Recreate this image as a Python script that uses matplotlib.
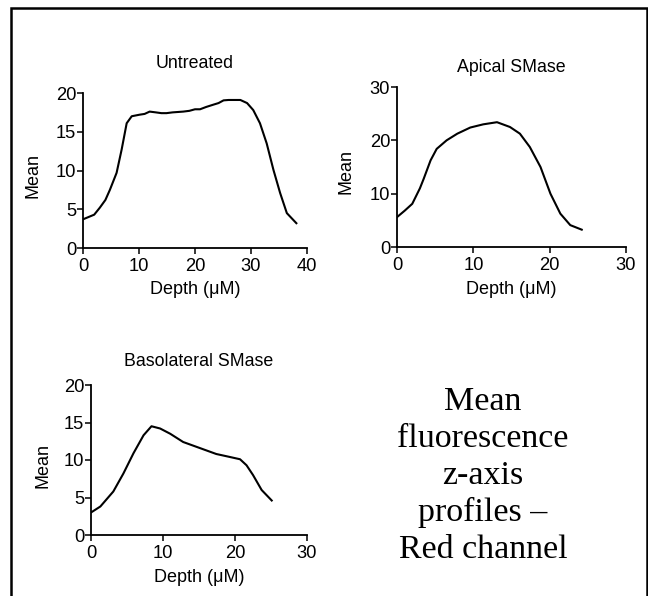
import matplotlib.pyplot as plt
from matplotlib.patches import Rectangle

# Untreated profile
untreated_depth = [0, 1, 2, 3, 4, 4.8, 6, 6.9, 7.8, 8.7, 10.1, 11.0, 11.9, 13.0, 14.0, 14.9, 16.0,
                   17.9, 19.0, 20.0, 20.9, 22.0, 23.3, 24.2, 25.1, 26.0, 27.0, 28.1, 29.3, 30.4,
                   31.6, 32.8, 34.0, 35.2, 36.4, 38.1]
untreated_mean = [3.7, 4.0, 4.3, 5.2, 6.2, 7.5, 9.7, 12.7, 16.1, 17.0, 17.2, 17.3, 17.6, 17.5, 17.4,
                  17.4, 17.5, 17.6, 17.7, 17.9, 17.9, 18.2, 18.5, 18.7, 19.05, 19.1, 19.1, 19.1, 18.7,
                  17.8, 16.1, 13.5, 10.1, 7.1, 4.5, 3.2]

# Apical SMase profile
apical_depth = [0, 1, 2, 3, 3.5, 4.4, 5.2, 6.5, 7.9, 9.6, 11.3, 13.1, 14.8, 16.1, 17.4, 18.8, 20.1,
                21.4, 22.7, 24.2]
apical_mean = [5.6, 6.8, 8.1, 11.0, 12.8, 16.25, 18.4, 20.0, 21.25, 22.4, 23.0, 23.4, 22.5, 21.25,
               18.75, 15.0, 10.0, 6.25, 4.1, 3.25]

# Basolateral SMase profile
baso_depth = [0, 1.3, 3.1, 4.5, 5.9, 7.3, 8.4, 9.6, 11.0, 12.8, 15.1, 17.4, 19.3, 20.7, 21.6, 22.5,
              23.7, 25.1]
baso_mean = [3.0, 3.8, 5.8, 8.2, 10.9, 13.3, 14.5, 14.2, 13.5, 12.4, 11.6, 10.8, 10.4, 10.1, 9.3,
             8.0, 6.0, 4.6]

panels = [
    ("Untreated", untreated_depth, untreated_mean, 40, [0, 10, 20, 30, 40], 20, [0, 5, 10, 15, 20]),
    ("Apical SMase", apical_depth, apical_mean, 30, [0, 10, 20, 30], 30, [0, 10, 20, 30]),
    ("Basolateral SMase", baso_depth, baso_mean, 30, [0, 10, 20, 30], 20, [0, 5, 10, 15, 20]),
]

W, H = 648, 596
plt.rcParams['font.family'] = ['Liberation Sans', 'DejaVu Sans']
fig = plt.figure(figsize=(W / 100, H / 100), dpi=100)

# axes boxes in pixels: left, top, right, bottom
boxes = [(83, 93, 307, 248), (397, 87, 626, 247), (91, 385, 307, 535)]
title_y = [63, 68, 361]
xlabel_y = [290, 289, 577]
ylabel_x = [33, 346, 43]

for (title, x, y, xmax, xt, ymax, yt), (l, t, r, b), ty, xly, ylx in zip(panels, boxes, title_y, xlabel_y, ylabel_x):
    ax = fig.add_axes([l / W, 1 - b / H, (r - l) / W, (b - t) / H])
    ax.plot(x, y, color='black', lw=1.5)
    ax.set_xlim(0, xmax)
    ax.set_ylim(0, ymax)
    ax.set_xticks(xt)
    ax.set_yticks(yt)
    for s in ['top', 'right']:
        ax.spines[s].set_visible(False)
    for s in ['left', 'bottom']:
        ax.spines[s].set_linewidth(1.3)
    ax.tick_params(width=1.1, length=4, labelsize=13.2)
    ax.tick_params(axis='x', pad=3)
    ax.tick_params(axis='y', pad=1)
    fig.text((l + r) / 2 / W, 1 - ty / H, title, ha='center', va='center', fontsize=12.8)
    fig.text((l + r) / 2 / W, 1 - xly / H, 'Depth (\u03bcM)', ha='center', va='center', fontsize=13)
    fig.text(ylx / W, 1 - ((t + b) / 2 + 5) / H, 'Mean', ha='center', va='center', rotation=90, fontsize=13)

fig.text(483 / W, 1 - 476 / H, 'Mean\nfluorescence\nz-axis\nprofiles \u2013\nRed channel',
         ha='center', va='center', fontsize=24.5, family='Liberation Serif', linespacing=1.27)

# outer frame
fig.patches.append(Rectangle((10.5 / W, -0.05), 636 / W, 1.05 - 7.5 / H, transform=fig.transFigure,
                             fill=False, edgecolor='black', lw=1.8))

fig.savefig('out.png', dpi=100)
